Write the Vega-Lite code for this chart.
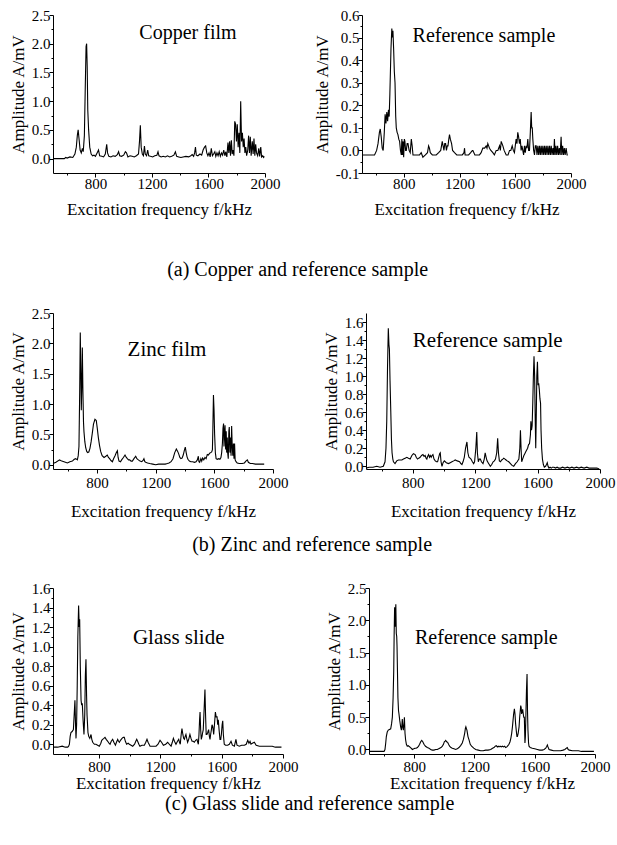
{
"$schema": "https://vega.github.io/schema/vega-lite/v6.json",
"background": "white",
"padding": {"left": 9, "top": 8, "right": 5, "bottom": 5},
"config": {
  "font": "Liberation Serif",
  "view": {"stroke": null},
  "axis": {"domainColor": "black", "tickColor": "black", "labelColor": "black", "titleColor": "black", "labelFont": "Liberation Serif", "titleFont": "Liberation Serif", "labelFontSize": 15, "titleFontSize": 17, "titleFontWeight": "normal", "grid": false, "labelPadding": -1, "domainWidth": 1, "tickWidth": 1, "labelOverlap": false, "tickCount": 100},
  "title": {"font": "Liberation Serif", "fontSize": 20, "fontWeight": "normal", "color": "black"}
},
"datasets": {
"cu": [{"f":500,"a":0},{"f":560,"a":0},{"f":580,"a":0},{"f":590,"a":0.02},{"f":600,"a":0.01},{"f":620,"a":0.03},{"f":640,"a":0.02},{"f":655,"a":0.08},{"f":665,"a":0.2},{"f":672,"a":0.4},{"f":678,"a":0.5},{"f":684,"a":0.35},{"f":692,"a":0.15},{"f":700,"a":0.1},{"f":708,"a":0.18},{"f":714,"a":0.12},{"f":722,"a":0.4},{"f":728,"a":1.2},{"f":734,"a":1.95},{"f":738,"a":2.0},{"f":742,"a":1.6},{"f":746,"a":0.85},{"f":752,"a":0.5},{"f":760,"a":0.2},{"f":770,"a":0.08},{"f":780,"a":0.05},{"f":790,"a":0.06},{"f":800,"a":0.04},{"f":812,"a":0.1},{"f":822,"a":0.15},{"f":830,"a":0.05},{"f":845,"a":0.04},{"f":858,"a":0.03},{"f":870,"a":0.08},{"f":880,"a":0.25},{"f":886,"a":0.1},{"f":895,"a":0.04},{"f":910,"a":0.03},{"f":925,"a":0.05},{"f":940,"a":0.04},{"f":955,"a":0.07},{"f":964,"a":0.12},{"f":972,"a":0.05},{"f":985,"a":0.04},{"f":1000,"a":0.06},{"f":1012,"a":0.12},{"f":1020,"a":0.1},{"f":1030,"a":0.03},{"f":1045,"a":0.05},{"f":1060,"a":0.04},{"f":1075,"a":0.03},{"f":1090,"a":0.05},{"f":1105,"a":0.08},{"f":1112,"a":0.3},{"f":1118,"a":0.58},{"f":1124,"a":0.2},{"f":1132,"a":0.08},{"f":1140,"a":0.05},{"f":1147,"a":0.22},{"f":1153,"a":0.08},{"f":1162,"a":0.05},{"f":1170,"a":0.15},{"f":1177,"a":0.05},{"f":1190,"a":0.04},{"f":1205,"a":0.03},{"f":1220,"a":0.05},{"f":1235,"a":0.06},{"f":1243,"a":0.12},{"f":1250,"a":0.05},{"f":1265,"a":0.03},{"f":1280,"a":0.04},{"f":1295,"a":0.03},{"f":1310,"a":0.05},{"f":1325,"a":0.03},{"f":1340,"a":0.04},{"f":1355,"a":0.06},{"f":1366,"a":0.12},{"f":1375,"a":0.04},{"f":1390,"a":0.03},{"f":1405,"a":0.02},{"f":1420,"a":0.03},{"f":1440,"a":0.04},{"f":1460,"a":0.03},{"f":1475,"a":0.05},{"f":1485,"a":0.07},{"f":1495,"a":0.04},{"f":1502,"a":0.1},{"f":1508,"a":0.2},{"f":1514,"a":0.06},{"f":1525,"a":0.05},{"f":1540,"a":0.08},{"f":1552,"a":0.06},{"f":1562,"a":0.15},{"f":1572,"a":0.2},{"f":1580,"a":0.22},{"f":1588,"a":0.1},{"f":1596,"a":0.05},{"f":1604,"a":0.1},{"f":1612,"a":0.03},{"f":1620,"a":0.18},{"f":1628,"a":0.05},{"f":1636,"a":0.08},{"f":1645,"a":0.12},{"f":1652,"a":0.04},{"f":1660,"a":0.1},{"f":1668,"a":0.05},{"f":1676,"a":0.12},{"f":1684,"a":0.04},{"f":1692,"a":0.1},{"f":1700,"a":0.06},{"f":1708,"a":0.15},{"f":1716,"a":0.05},{"f":1722,"a":0.12},{"f":1730,"a":0.03},{"f":1738,"a":0.28},{"f":1744,"a":0.1},{"f":1750,"a":0.3},{"f":1756,"a":0.05},{"f":1762,"a":0.32},{"f":1768,"a":0.08},{"f":1774,"a":0.15},{"f":1780,"a":0.05},{"f":1786,"a":0.65},{"f":1792,"a":0.6},{"f":1798,"a":0.3},{"f":1804,"a":0.6},{"f":1810,"a":0.2},{"f":1816,"a":0.45},{"f":1822,"a":0.1},{"f":1828,"a":1.0},{"f":1834,"a":0.3},{"f":1840,"a":0.45},{"f":1846,"a":0.2},{"f":1852,"a":0.35},{"f":1858,"a":0.1},{"f":1864,"a":0.2},{"f":1870,"a":0.05},{"f":1878,"a":0.15},{"f":1884,"a":0.4},{"f":1890,"a":0.1},{"f":1896,"a":0.38},{"f":1902,"a":0.05},{"f":1910,"a":0.3},{"f":1916,"a":0.08},{"f":1922,"a":0.35},{"f":1928,"a":0.05},{"f":1934,"a":0.25},{"f":1940,"a":0.1},{"f":1948,"a":0.05},{"f":1956,"a":0.18},{"f":1962,"a":0.04},{"f":1970,"a":0.2},{"f":1976,"a":0.03},{"f":1984,"a":0.05},{"f":1990,"a":0.02},{"f":1995,"a":0.04}],
"cuRef": [{"f":500,"a":-0.02},{"f":540,"a":-0.02},{"f":570,"a":-0.02},{"f":590,"a":-0.02},{"f":605,"a":0.0},{"f":615,"a":0.03},{"f":625,"a":0.08},{"f":631,"a":0.095},{"f":638,"a":0.06},{"f":645,"a":0.01},{"f":652,"a":0.0},{"f":660,"a":0.08},{"f":666,"a":0.16},{"f":672,"a":0.12},{"f":678,"a":0.17},{"f":684,"a":0.13},{"f":690,"a":0.18},{"f":695,"a":0.15},{"f":700,"a":0.25},{"f":708,"a":0.45},{"f":714,"a":0.54},{"f":718,"a":0.5},{"f":722,"a":0.53},{"f":727,"a":0.45},{"f":732,"a":0.35},{"f":737,"a":0.3},{"f":742,"a":0.15},{"f":746,"a":0.1},{"f":752,"a":0.08},{"f":758,"a":0.07},{"f":764,"a":0.05},{"f":770,"a":0.04},{"f":776,"a":0.0},{"f":782,"a":-0.02},{"f":786,"a":0.05},{"f":790,"a":-0.02},{"f":795,"a":0.04},{"f":799,"a":-0.03},{"f":804,"a":0.05},{"f":808,"a":0.04},{"f":813,"a":0.0},{"f":818,"a":0.0},{"f":824,"a":0.03},{"f":830,"a":0.03},{"f":838,"a":0.0},{"f":846,"a":-0.01},{"f":854,"a":0.05},{"f":860,"a":0.02},{"f":866,"a":-0.02},{"f":880,"a":-0.02},{"f":895,"a":-0.02},{"f":913,"a":-0.02},{"f":925,"a":-0.01},{"f":937,"a":-0.03},{"f":955,"a":-0.02},{"f":970,"a":-0.01},{"f":978,"a":0.02},{"f":984,"a":0.01},{"f":990,"a":-0.01},{"f":1005,"a":-0.02},{"f":1020,"a":-0.02},{"f":1033,"a":-0.02},{"f":1050,"a":-0.01},{"f":1065,"a":0.0},{"f":1076,"a":0.04},{"f":1082,"a":0.02},{"f":1088,"a":0.0},{"f":1094,"a":0.03},{"f":1100,"a":0.03},{"f":1106,"a":0.0},{"f":1112,"a":0.02},{"f":1117,"a":0.02},{"f":1123,"a":0.05},{"f":1128,"a":0.07},{"f":1134,"a":0.05},{"f":1143,"a":0.03},{"f":1150,"a":0.0},{"f":1164,"a":-0.01},{"f":1180,"a":-0.02},{"f":1200,"a":-0.02},{"f":1220,"a":-0.02},{"f":1232,"a":-0.01},{"f":1236,"a":0.01},{"f":1240,"a":-0.02},{"f":1248,"a":-0.02},{"f":1265,"a":-0.02},{"f":1280,"a":-0.01},{"f":1292,"a":0.0},{"f":1296,"a":0.0},{"f":1310,"a":-0.02},{"f":1330,"a":-0.02},{"f":1343,"a":-0.02},{"f":1355,"a":-0.01},{"f":1367,"a":0.01},{"f":1380,"a":0.01},{"f":1391,"a":0.02},{"f":1397,"a":0.01},{"f":1403,"a":0.03},{"f":1409,"a":0.02},{"f":1415,"a":0.01},{"f":1425,"a":0.0},{"f":1439,"a":-0.01},{"f":1450,"a":-0.02},{"f":1463,"a":0.0},{"f":1475,"a":0.0},{"f":1487,"a":0.02},{"f":1493,"a":0.0},{"f":1499,"a":0.04},{"f":1505,"a":0.03},{"f":1511,"a":0.02},{"f":1520,"a":0.0},{"f":1535,"a":-0.02},{"f":1548,"a":-0.02},{"f":1559,"a":0.0},{"f":1568,"a":0.0},{"f":1578,"a":0.02},{"f":1586,"a":0.0},{"f":1594,"a":-0.01},{"f":1600,"a":0.02},{"f":1606,"a":0.05},{"f":1612,"a":0.03},{"f":1618,"a":0.08},{"f":1624,"a":0.06},{"f":1630,"a":0.03},{"f":1636,"a":0.05},{"f":1642,"a":0.0},{"f":1648,"a":0.02},{"f":1654,"a":0.0},{"f":1660,"a":-0.02},{"f":1666,"a":0.02},{"f":1672,"a":-0.01},{"f":1678,"a":0.02},{"f":1684,"a":0.01},{"f":1690,"a":0.05},{"f":1696,"a":0.0},{"f":1702,"a":0.0},{"f":1708,"a":0.08},{"f":1714,"a":0.17},{"f":1718,"a":0.1},{"f":1722,"a":0.1},{"f":1726,"a":0.05},{"f":1732,"a":0.0},{"f":1738,"a":-0.02},{"f":1744,"a":0.02},{"f":1750,"a":0.02},{"f":1756,"a":-0.02},{"f":1762,"a":0.02},{"f":1768,"a":-0.02},{"f":1774,"a":0.02},{"f":1780,"a":-0.02},{"f":1786,"a":0.02},{"f":1792,"a":-0.02},{"f":1798,"a":0.02},{"f":1804,"a":-0.02},{"f":1810,"a":0.02},{"f":1816,"a":-0.02},{"f":1822,"a":0.02},{"f":1828,"a":-0.02},{"f":1834,"a":0.02},{"f":1840,"a":-0.02},{"f":1846,"a":0.02},{"f":1852,"a":-0.02},{"f":1858,"a":0.02},{"f":1864,"a":-0.02},{"f":1870,"a":0.01},{"f":1876,"a":-0.02},{"f":1881,"a":0.05},{"f":1886,"a":-0.02},{"f":1892,"a":0.02},{"f":1898,"a":-0.02},{"f":1904,"a":0.02},{"f":1910,"a":-0.02},{"f":1916,"a":0.01},{"f":1922,"a":-0.02},{"f":1929,"a":0.06},{"f":1934,"a":-0.02},{"f":1940,"a":0.02},{"f":1946,"a":-0.02},{"f":1952,"a":0.01},{"f":1958,"a":-0.02},{"f":1965,"a":0.01},{"f":1972,"a":-0.02},{"f":1977,"a":-0.02}],
"zn": [{"f":500,"a":0.02},{"f":520,"a":0.04},{"f":545,"a":0.08},{"f":560,"a":0.06},{"f":575,"a":0.05},{"f":598,"a":0.03},{"f":615,"a":0.05},{"f":632,"a":0.06},{"f":645,"a":0.09},{"f":655,"a":0.1},{"f":666,"a":0.08},{"f":672,"a":0.15},{"f":677,"a":0.3},{"f":682,"a":1.2},{"f":686,"a":2.18},{"f":690,"a":1.5},{"f":693,"a":0.9},{"f":697,"a":1.4},{"f":700,"a":1.93},{"f":704,"a":1.2},{"f":708,"a":0.7},{"f":711,"a":0.55},{"f":717,"a":0.38},{"f":723,"a":0.28},{"f":730,"a":0.22},{"f":736,"a":0.2},{"f":744,"a":0.21},{"f":752,"a":0.27},{"f":760,"a":0.38},{"f":768,"a":0.52},{"f":776,"a":0.67},{"f":786,"a":0.75},{"f":795,"a":0.73},{"f":802,"a":0.6},{"f":809,"a":0.45},{"f":817,"a":0.32},{"f":825,"a":0.22},{"f":835,"a":0.15},{"f":848,"a":0.12},{"f":860,"a":0.14},{"f":870,"a":0.16},{"f":878,"a":0.12},{"f":886,"a":0.1},{"f":895,"a":0.07},{"f":905,"a":0.05},{"f":913,"a":0.1},{"f":923,"a":0.15},{"f":932,"a":0.2},{"f":939,"a":0.23},{"f":944,"a":0.12},{"f":950,"a":0.06},{"f":960,"a":0.05},{"f":968,"a":0.08},{"f":980,"a":0.12},{"f":991,"a":0.16},{"f":1000,"a":0.12},{"f":1007,"a":0.1},{"f":1015,"a":0.08},{"f":1023,"a":0.08},{"f":1032,"a":0.06},{"f":1041,"a":0.06},{"f":1052,"a":0.1},{"f":1064,"a":0.14},{"f":1072,"a":0.1},{"f":1082,"a":0.08},{"f":1093,"a":0.06},{"f":1105,"a":0.05},{"f":1114,"a":0.07},{"f":1120,"a":0.1},{"f":1126,"a":0.05},{"f":1132,"a":0.04},{"f":1145,"a":0.03},{"f":1160,"a":0.02},{"f":1180,"a":0.01},{"f":1200,"a":0.0},{"f":1220,"a":0.01},{"f":1245,"a":0.01},{"f":1265,"a":0.01},{"f":1280,"a":0.02},{"f":1291,"a":0.03},{"f":1305,"a":0.05},{"f":1318,"a":0.1},{"f":1330,"a":0.2},{"f":1341,"a":0.26},{"f":1350,"a":0.22},{"f":1357,"a":0.18},{"f":1365,"a":0.12},{"f":1372,"a":0.1},{"f":1380,"a":0.11},{"f":1388,"a":0.16},{"f":1396,"a":0.24},{"f":1402,"a":0.29},{"f":1408,"a":0.2},{"f":1414,"a":0.13},{"f":1420,"a":0.09},{"f":1430,"a":0.06},{"f":1440,"a":0.05},{"f":1452,"a":0.05},{"f":1465,"a":0.04},{"f":1475,"a":0.05},{"f":1484,"a":0.08},{"f":1491,"a":0.14},{"f":1495,"a":0.05},{"f":1500,"a":0.04},{"f":1508,"a":0.1},{"f":1514,"a":0.06},{"f":1520,"a":0.11},{"f":1528,"a":0.08},{"f":1536,"a":0.12},{"f":1544,"a":0.1},{"f":1552,"a":0.17},{"f":1560,"a":0.16},{"f":1568,"a":0.19},{"f":1575,"a":0.2},{"f":1582,"a":0.21},{"f":1587,"a":0.25},{"f":1590,"a":0.6},{"f":1594,"a":1.15},{"f":1598,"a":0.9},{"f":1602,"a":0.5},{"f":1607,"a":0.2},{"f":1612,"a":0.1},{"f":1620,"a":0.09},{"f":1630,"a":0.1},{"f":1638,"a":0.09},{"f":1645,"a":0.12},{"f":1650,"a":0.2},{"f":1655,"a":0.35},{"f":1659,"a":0.6},{"f":1663,"a":0.68},{"f":1666,"a":0.3},{"f":1670,"a":0.55},{"f":1673,"a":0.65},{"f":1677,"a":0.25},{"f":1681,"a":0.55},{"f":1684,"a":0.2},{"f":1688,"a":0.45},{"f":1691,"a":0.2},{"f":1695,"a":0.1},{"f":1699,"a":0.55},{"f":1702,"a":0.62},{"f":1706,"a":0.2},{"f":1710,"a":0.45},{"f":1714,"a":0.15},{"f":1718,"a":0.64},{"f":1722,"a":0.3},{"f":1726,"a":0.15},{"f":1730,"a":0.35},{"f":1734,"a":0.1},{"f":1738,"a":0.35},{"f":1742,"a":0.08},{"f":1748,"a":0.05},{"f":1756,"a":0.03},{"f":1770,"a":0.02},{"f":1790,"a":0.02},{"f":1805,"a":0.03},{"f":1815,"a":0.06},{"f":1825,"a":0.08},{"f":1832,"a":0.04},{"f":1845,"a":0.02},{"f":1860,"a":0.02},{"f":1880,"a":0.01},{"f":1900,"a":0.01},{"f":1920,"a":0.01},{"f":1940,"a":0.01}],
"znRef": [{"f":500,"a":-0.02},{"f":520,"a":-0.01},{"f":545,"a":-0.01},{"f":569,"a":0.0},{"f":590,"a":-0.01},{"f":611,"a":0.0},{"f":622,"a":0.05},{"f":628,"a":0.2},{"f":633,"a":0.5},{"f":638,"a":1.1},{"f":643,"a":1.53},{"f":647,"a":1.35},{"f":650,"a":1.3},{"f":654,"a":0.95},{"f":659,"a":0.6},{"f":663,"a":0.3},{"f":667,"a":0.15},{"f":672,"a":0.08},{"f":676,"a":0.05},{"f":686,"a":0.03},{"f":697,"a":0.06},{"f":708,"a":0.07},{"f":719,"a":0.07},{"f":730,"a":0.07},{"f":740,"a":0.08},{"f":751,"a":0.09},{"f":762,"a":0.1},{"f":772,"a":0.09},{"f":783,"a":0.08},{"f":794,"a":0.12},{"f":804,"a":0.14},{"f":815,"a":0.13},{"f":822,"a":0.1},{"f":830,"a":0.08},{"f":838,"a":0.09},{"f":847,"a":0.1},{"f":856,"a":0.12},{"f":865,"a":0.13},{"f":872,"a":0.11},{"f":879,"a":0.12},{"f":885,"a":0.09},{"f":890,"a":0.08},{"f":895,"a":0.11},{"f":901,"a":0.13},{"f":907,"a":0.1},{"f":912,"a":0.12},{"f":918,"a":0.1},{"f":923,"a":0.12},{"f":929,"a":0.13},{"f":936,"a":0.08},{"f":944,"a":0.06},{"f":952,"a":0.05},{"f":959,"a":0.05},{"f":966,"a":0.1},{"f":972,"a":0.14},{"f":976,"a":0.15},{"f":981,"a":0.05},{"f":987,"a":0.0},{"f":994,"a":0.04},{"f":1002,"a":0.06},{"f":1015,"a":0.04},{"f":1029,"a":0.03},{"f":1040,"a":0.04},{"f":1051,"a":0.05},{"f":1062,"a":0.06},{"f":1072,"a":0.07},{"f":1085,"a":0.06},{"f":1100,"a":0.05},{"f":1108,"a":0.03},{"f":1115,"a":0.02},{"f":1122,"a":0.05},{"f":1130,"a":0.1},{"f":1138,"a":0.2},{"f":1147,"a":0.27},{"f":1153,"a":0.15},{"f":1160,"a":0.1},{"f":1167,"a":0.09},{"f":1173,"a":0.08},{"f":1182,"a":0.05},{"f":1190,"a":0.03},{"f":1196,"a":0.05},{"f":1204,"a":0.2},{"f":1210,"a":0.38},{"f":1214,"a":0.15},{"f":1220,"a":0.05},{"f":1226,"a":0.08},{"f":1233,"a":0.08},{"f":1240,"a":0.05},{"f":1250,"a":0.03},{"f":1258,"a":0.08},{"f":1264,"a":0.15},{"f":1270,"a":0.1},{"f":1276,"a":0.06},{"f":1283,"a":0.04},{"f":1290,"a":0.02},{"f":1297,"a":0.0},{"f":1306,"a":0.02},{"f":1315,"a":0.05},{"f":1323,"a":0.06},{"f":1330,"a":0.08},{"f":1338,"a":0.15},{"f":1344,"a":0.31},{"f":1349,"a":0.15},{"f":1355,"a":0.06},{"f":1362,"a":0.05},{"f":1370,"a":0.07},{"f":1377,"a":0.08},{"f":1383,"a":0.09},{"f":1391,"a":0.08},{"f":1398,"a":0.07},{"f":1405,"a":0.06},{"f":1415,"a":0.05},{"f":1426,"a":0.03},{"f":1436,"a":0.01},{"f":1447,"a":0.0},{"f":1458,"a":0.03},{"f":1469,"a":0.05},{"f":1476,"a":0.07},{"f":1480,"a":0.08},{"f":1486,"a":0.2},{"f":1490,"a":0.4},{"f":1494,"a":0.2},{"f":1498,"a":0.05},{"f":1504,"a":0.08},{"f":1512,"a":0.12},{"f":1518,"a":0.14},{"f":1524,"a":0.16},{"f":1530,"a":0.18},{"f":1536,"a":0.2},{"f":1542,"a":0.24},{"f":1548,"a":0.25},{"f":1554,"a":0.35},{"f":1557,"a":0.5},{"f":1561,"a":0.4},{"f":1565,"a":0.45},{"f":1569,"a":0.7},{"f":1573,"a":1.0},{"f":1577,"a":1.22},{"f":1581,"a":1.0},{"f":1585,"a":0.5},{"f":1588,"a":0.2},{"f":1591,"a":0.5},{"f":1595,"a":1.0},{"f":1599,"a":1.16},{"f":1603,"a":0.9},{"f":1607,"a":0.92},{"f":1611,"a":0.85},{"f":1615,"a":0.75},{"f":1619,"a":0.7},{"f":1622,"a":0.4},{"f":1626,"a":0.2},{"f":1631,"a":0.08},{"f":1637,"a":0.02},{"f":1643,"a":-0.01},{"f":1651,"a":0.0},{"f":1657,"a":0.02},{"f":1662,"a":0.04},{"f":1667,"a":0.0},{"f":1673,"a":-0.02},{"f":1680,"a":-0.01},{"f":1688,"a":-0.02},{"f":1695,"a":-0.01},{"f":1705,"a":-0.01},{"f":1715,"a":-0.02},{"f":1725,"a":-0.01},{"f":1735,"a":-0.02},{"f":1748,"a":-0.02},{"f":1760,"a":-0.01},{"f":1775,"a":-0.02},{"f":1791,"a":-0.01},{"f":1805,"a":-0.02},{"f":1820,"a":-0.01},{"f":1833,"a":-0.02},{"f":1850,"a":-0.01},{"f":1865,"a":-0.02},{"f":1880,"a":-0.01},{"f":1898,"a":-0.02},{"f":1915,"a":-0.01},{"f":1930,"a":-0.02},{"f":1945,"a":-0.02},{"f":1962,"a":-0.02},{"f":1980,"a":-0.02},{"f":1995,"a":-0.03}],
"gl": [{"f":500,"a":-0.03},{"f":530,"a":-0.03},{"f":560,"a":-0.02},{"f":580,"a":-0.03},{"f":596,"a":-0.03},{"f":602,"a":-0.02},{"f":607,"a":0.0},{"f":612,"a":0.08},{"f":617,"a":0.12},{"f":625,"a":0.13},{"f":633,"a":0.15},{"f":638,"a":0.3},{"f":643,"a":0.45},{"f":647,"a":0.2},{"f":650,"a":0.06},{"f":654,"a":0.2},{"f":658,"a":0.6},{"f":662,"a":1.1},{"f":667,"a":1.42},{"f":671,"a":1.2},{"f":674,"a":1.28},{"f":678,"a":0.8},{"f":683,"a":0.45},{"f":687,"a":0.4},{"f":691,"a":0.42},{"f":696,"a":0.25},{"f":702,"a":0.1},{"f":707,"a":0.3},{"f":711,"a":0.7},{"f":715,"a":0.87},{"f":719,"a":0.5},{"f":722,"a":0.3},{"f":728,"a":0.12},{"f":733,"a":0.08},{"f":740,"a":0.06},{"f":748,"a":0.1},{"f":753,"a":0.05},{"f":759,"a":0.02},{"f":770,"a":0.0},{"f":780,"a":0.0},{"f":791,"a":-0.01},{"f":802,"a":-0.02},{"f":812,"a":0.01},{"f":818,"a":0.04},{"f":824,"a":0.05},{"f":832,"a":0.06},{"f":839,"a":0.07},{"f":847,"a":0.05},{"f":857,"a":0.03},{"f":865,"a":0.01},{"f":872,"a":0.0},{"f":880,"a":0.03},{"f":889,"a":0.05},{"f":897,"a":0.02},{"f":907,"a":-0.01},{"f":914,"a":0.02},{"f":922,"a":0.05},{"f":927,"a":0.03},{"f":933,"a":0.02},{"f":940,"a":0.04},{"f":950,"a":0.06},{"f":958,"a":0.07},{"f":965,"a":0.07},{"f":972,"a":0.03},{"f":980,"a":0.0},{"f":990,"a":0.01},{"f":998,"a":0.0},{"f":1009,"a":-0.01},{"f":1020,"a":-0.02},{"f":1032,"a":0.0},{"f":1040,"a":0.03},{"f":1046,"a":0.05},{"f":1052,"a":0.03},{"f":1060,"a":0.0},{"f":1067,"a":-0.02},{"f":1080,"a":-0.01},{"f":1096,"a":-0.01},{"f":1105,"a":0.02},{"f":1113,"a":0.05},{"f":1120,"a":0.02},{"f":1133,"a":-0.02},{"f":1150,"a":-0.02},{"f":1165,"a":-0.02},{"f":1172,"a":-0.02},{"f":1185,"a":0.0},{"f":1198,"a":0.04},{"f":1208,"a":0.02},{"f":1220,"a":-0.01},{"f":1235,"a":0.0},{"f":1248,"a":0.02},{"f":1258,"a":0.0},{"f":1270,"a":-0.02},{"f":1278,"a":0.02},{"f":1285,"a":0.06},{"f":1292,"a":0.03},{"f":1302,"a":0.0},{"f":1312,"a":0.03},{"f":1320,"a":0.05},{"f":1325,"a":0.02},{"f":1330,"a":0.0},{"f":1336,"a":0.1},{"f":1341,"a":0.16},{"f":1347,"a":0.1},{"f":1352,"a":0.06},{"f":1357,"a":0.05},{"f":1362,"a":0.08},{"f":1367,"a":0.1},{"f":1372,"a":0.06},{"f":1378,"a":0.02},{"f":1385,"a":0.05},{"f":1393,"a":0.1},{"f":1400,"a":0.06},{"f":1407,"a":0.03},{"f":1414,"a":0.03},{"f":1422,"a":0.02},{"f":1430,"a":0.04},{"f":1439,"a":0.05},{"f":1444,"a":0.02},{"f":1448,"a":0.0},{"f":1452,"a":0.1},{"f":1456,"a":0.25},{"f":1459,"a":0.33},{"f":1463,"a":0.15},{"f":1467,"a":0.05},{"f":1472,"a":0.08},{"f":1476,"a":0.12},{"f":1480,"a":0.15},{"f":1484,"a":0.3},{"f":1488,"a":0.45},{"f":1491,"a":0.56},{"f":1495,"a":0.3},{"f":1499,"a":0.1},{"f":1504,"a":0.1},{"f":1509,"a":0.12},{"f":1515,"a":0.15},{"f":1520,"a":0.08},{"f":1524,"a":0.05},{"f":1528,"a":0.1},{"f":1533,"a":0.15},{"f":1537,"a":0.2},{"f":1542,"a":0.18},{"f":1548,"a":0.1},{"f":1553,"a":0.2},{"f":1559,"a":0.33},{"f":1564,"a":0.28},{"f":1570,"a":0.28},{"f":1574,"a":0.2},{"f":1578,"a":0.25},{"f":1583,"a":0.15},{"f":1589,"a":0.05},{"f":1594,"a":0.05},{"f":1598,"a":0.1},{"f":1603,"a":0.2},{"f":1607,"a":0.24},{"f":1611,"a":0.1},{"f":1617,"a":0.0},{"f":1625,"a":-0.01},{"f":1639,"a":-0.01},{"f":1650,"a":0.0},{"f":1661,"a":0.03},{"f":1670,"a":-0.01},{"f":1683,"a":-0.02},{"f":1693,"a":0.05},{"f":1700,"a":-0.01},{"f":1715,"a":-0.02},{"f":1730,"a":-0.01},{"f":1748,"a":-0.01},{"f":1760,"a":0.0},{"f":1770,"a":0.04},{"f":1778,"a":0.01},{"f":1785,"a":0.03},{"f":1791,"a":0.0},{"f":1800,"a":0.01},{"f":1813,"a":0.02},{"f":1825,"a":-0.01},{"f":1846,"a":-0.02},{"f":1870,"a":-0.02},{"f":1890,"a":-0.02},{"f":1911,"a":-0.02},{"f":1930,"a":-0.02},{"f":1950,"a":-0.03},{"f":1970,"a":-0.03},{"f":1990,"a":-0.03}],
"glRef": [{"f":500,"a":-0.03},{"f":530,"a":-0.03},{"f":560,"a":-0.03},{"f":585,"a":-0.03},{"f":600,"a":-0.03},{"f":606,"a":0.0},{"f":611,"a":0.1},{"f":615,"a":0.2},{"f":621,"a":0.27},{"f":628,"a":0.3},{"f":636,"a":0.31},{"f":644,"a":0.32},{"f":650,"a":0.4},{"f":655,"a":0.5},{"f":660,"a":0.8},{"f":664,"a":1.2},{"f":667,"a":1.8},{"f":670,"a":2.2},{"f":673,"a":1.9},{"f":675,"a":1.95},{"f":678,"a":2.25},{"f":681,"a":1.8},{"f":684,"a":1.75},{"f":686,"a":1.6},{"f":689,"a":1.2},{"f":692,"a":0.8},{"f":696,"a":0.6},{"f":699,"a":0.55},{"f":704,"a":0.45},{"f":710,"a":0.35},{"f":715,"a":0.3},{"f":719,"a":0.4},{"f":721,"a":0.47},{"f":724,"a":0.35},{"f":728,"a":0.3},{"f":732,"a":0.4},{"f":735,"a":0.5},{"f":739,"a":0.25},{"f":743,"a":0.15},{"f":748,"a":0.08},{"f":754,"a":0.05},{"f":760,"a":0.06},{"f":765,"a":0.05},{"f":776,"a":0.03},{"f":788,"a":0.0},{"f":797,"a":0.01},{"f":805,"a":0.02},{"f":813,"a":0.02},{"f":821,"a":0.03},{"f":829,"a":0.05},{"f":836,"a":0.08},{"f":843,"a":0.12},{"f":850,"a":0.14},{"f":857,"a":0.12},{"f":865,"a":0.08},{"f":875,"a":0.05},{"f":887,"a":0.03},{"f":898,"a":0.02},{"f":909,"a":0.0},{"f":920,"a":-0.01},{"f":931,"a":-0.01},{"f":943,"a":0.0},{"f":954,"a":0.0},{"f":962,"a":0.01},{"f":969,"a":0.02},{"f":978,"a":0.03},{"f":987,"a":0.05},{"f":994,"a":0.08},{"f":1000,"a":0.12},{"f":1005,"a":0.13},{"f":1009,"a":0.14},{"f":1015,"a":0.12},{"f":1022,"a":0.11},{"f":1028,"a":0.08},{"f":1035,"a":0.05},{"f":1044,"a":0.03},{"f":1053,"a":0.02},{"f":1064,"a":0.01},{"f":1075,"a":0.0},{"f":1086,"a":0.01},{"f":1097,"a":0.03},{"f":1108,"a":0.06},{"f":1119,"a":0.1},{"f":1127,"a":0.16},{"f":1135,"a":0.25},{"f":1140,"a":0.33},{"f":1143,"a":0.35},{"f":1147,"a":0.32},{"f":1150,"a":0.3},{"f":1157,"a":0.2},{"f":1164,"a":0.15},{"f":1172,"a":0.08},{"f":1181,"a":0.05},{"f":1195,"a":0.02},{"f":1208,"a":0.0},{"f":1225,"a":-0.01},{"f":1241,"a":-0.02},{"f":1258,"a":-0.02},{"f":1274,"a":-0.01},{"f":1290,"a":-0.01},{"f":1308,"a":0.0},{"f":1320,"a":0.02},{"f":1330,"a":0.03},{"f":1338,"a":0.05},{"f":1345,"a":0.06},{"f":1352,"a":0.04},{"f":1358,"a":0.05},{"f":1363,"a":0.04},{"f":1370,"a":0.05},{"f":1378,"a":0.04},{"f":1385,"a":0.05},{"f":1393,"a":0.04},{"f":1400,"a":0.05},{"f":1407,"a":0.03},{"f":1415,"a":0.04},{"f":1422,"a":0.06},{"f":1429,"a":0.08},{"f":1436,"a":0.12},{"f":1442,"a":0.18},{"f":1447,"a":0.25},{"f":1452,"a":0.35},{"f":1456,"a":0.45},{"f":1460,"a":0.55},{"f":1465,"a":0.63},{"f":1469,"a":0.55},{"f":1473,"a":0.4},{"f":1478,"a":0.28},{"f":1482,"a":0.2},{"f":1485,"a":0.2},{"f":1490,"a":0.25},{"f":1496,"a":0.35},{"f":1500,"a":0.5},{"f":1504,"a":0.6},{"f":1507,"a":0.68},{"f":1510,"a":0.65},{"f":1513,"a":0.55},{"f":1517,"a":0.6},{"f":1520,"a":0.62},{"f":1524,"a":0.55},{"f":1527,"a":0.5},{"f":1531,"a":0.5},{"f":1535,"a":0.1},{"f":1538,"a":0.2},{"f":1542,"a":0.6},{"f":1545,"a":0.9},{"f":1549,"a":1.17},{"f":1552,"a":0.6},{"f":1555,"a":0.3},{"f":1559,"a":0.1},{"f":1562,"a":0.05},{"f":1570,"a":0.03},{"f":1584,"a":0.02},{"f":1600,"a":0.01},{"f":1617,"a":0.0},{"f":1633,"a":-0.01},{"f":1650,"a":-0.01},{"f":1662,"a":0.0},{"f":1673,"a":0.02},{"f":1680,"a":0.05},{"f":1684,"a":0.07},{"f":1688,"a":0.04},{"f":1695,"a":0.0},{"f":1710,"a":-0.01},{"f":1725,"a":-0.02},{"f":1739,"a":-0.02},{"f":1755,"a":-0.02},{"f":1772,"a":-0.02},{"f":1788,"a":-0.01},{"f":1800,"a":0.0},{"f":1810,"a":0.02},{"f":1816,"a":0.03},{"f":1822,"a":0.0},{"f":1830,"a":-0.01},{"f":1850,"a":-0.02},{"f":1872,"a":-0.02},{"f":1890,"a":-0.02},{"f":1910,"a":-0.03},{"f":1938,"a":-0.03},{"f":1960,"a":-0.03},{"f":1980,"a":-0.03},{"f":1993,"a":-0.03}]
},
"spacing": 26,
"vconcat": [
{"spacing": 33, "title": {"text": "(a) Copper and reference sample", "orient": "bottom", "anchor": "middle", "offset": 43},
 "hconcat": [
  {"width": 212, "height": 158, "layer": [
    {"data": {"name": "cu"}, "mark": {"type": "line", "color": "black", "strokeWidth": 1.1},
     "encoding": {"x": {"field": "f", "type": "quantitative", "scale": {"domain": [500, 2000], "nice": false, "zero": false}, "axis": {"title": "Excitation frequency f/kHz", "titlePadding": 10, "values": [600,800,1000,1200,1400,1600,1800,2000], "format": "d", "labelExpr": "datum.value % 400 === 0 ? datum.label : ''", "tickSize": {"condition": {"test": "datum.value % 400 === 0", "value": 4}, "value": 2}, "labelFlush": false, "labelOverlap": false}},
      "y": {"field": "a", "type": "quantitative", "scale": {"domain": [-0.25, 2.5], "nice": false, "zero": false}, "axis": {"title": "Amplitude A/mV", "values": [0,0.25,0.5,0.75,1,1.25,1.5,1.75,2,2.25,2.5], "format": ".1f", "labelExpr": "abs(datum.value*2-round(datum.value*2))<1e-6 ? datum.label : ''", "tickSize": {"condition": {"test": "abs(datum.value*2-round(datum.value*2))<1e-6", "value": 4}, "value": 2}, "labelOverlap": false}}}},
    {"data": {"values": [{"t": "Copper film"}]}, "mark": {"type": "text", "fontSize": 20, "font": "Liberation Serif", "color": "black"},
     "encoding": {"x": {"datum": 1455, "type": "quantitative"}, "y": {"datum": 2.19, "type": "quantitative"}, "text": {"field": "t"}}}
  ]},
  {"width": 209, "height": 158, "layer": [
    {"data": {"name": "cuRef"}, "mark": {"type": "line", "color": "black", "strokeWidth": 1.1},
     "encoding": {"x": {"field": "f", "type": "quantitative", "scale": {"domain": [500, 2000], "nice": false, "zero": false}, "axis": {"title": "Excitation frequency f/kHz", "titlePadding": 10, "values": [600,800,1000,1200,1400,1600,1800,2000], "format": "d", "labelExpr": "datum.value % 400 === 0 ? datum.label : ''", "tickSize": {"condition": {"test": "datum.value % 400 === 0", "value": 4}, "value": 2}, "labelFlush": false, "labelOverlap": false}},
      "y": {"field": "a", "type": "quantitative", "scale": {"domain": [-0.1, 0.6], "nice": false, "zero": false}, "axis": {"title": "Amplitude A/mV", "values": [-0.1,-0.05,0,0.05,0.1,0.15,0.2,0.25,0.3,0.35,0.4,0.45,0.5,0.55,0.6], "format": ".1f", "labelExpr": "abs(datum.value*10-round(datum.value*10))<1e-6 ? (datum.value < 0 ? '-' + format(-datum.value, '.1f') : datum.label) : ''", "tickSize": {"condition": {"test": "abs(datum.value*10-round(datum.value*10))<1e-6", "value": 4}, "value": 2}, "labelOverlap": false}}}},
    {"data": {"values": [{"t": "Reference sample"}]}, "mark": {"type": "text", "fontSize": 20, "font": "Liberation Serif", "color": "black"},
     "encoding": {"x": {"datum": 1375, "type": "quantitative"}, "y": {"datum": 0.506, "type": "quantitative"}, "text": {"field": "t"}}}
  ]}
 ]},
{"spacing": 34, "title": {"text": "(b) Zinc and reference sample", "orient": "bottom", "anchor": "middle", "offset": 16},
 "hconcat": [
  {"width": 220, "height": 156, "layer": [
    {"data": {"name": "zn"}, "mark": {"type": "line", "color": "black", "strokeWidth": 1.1},
     "encoding": {"x": {"field": "f", "type": "quantitative", "scale": {"domain": [500, 2000], "nice": false, "zero": false}, "axis": {"title": "Excitation frequency f/kHz", "labelPadding": 2, "titlePadding": 13, "values": [600,800,1000,1200,1400,1600,1800,2000], "format": "d", "labelExpr": "datum.value % 400 === 0 ? datum.label : ''", "tickSize": {"condition": {"test": "datum.value % 400 === 0", "value": 4}, "value": 2}, "labelFlush": false, "labelOverlap": false}},
      "y": {"field": "a", "type": "quantitative", "scale": {"domain": [-0.07, 2.5], "nice": false, "zero": false}, "axis": {"title": "Amplitude A/mV", "values": [0,0.25,0.5,0.75,1,1.25,1.5,1.75,2,2.25,2.5], "format": ".1f", "labelExpr": "abs(datum.value*2-round(datum.value*2))<1e-6 ? datum.label : ''", "tickSize": {"condition": {"test": "abs(datum.value*2-round(datum.value*2))<1e-6", "value": 4}, "value": 2}, "labelOverlap": false}}}},
    {"data": {"values": [{"t": "Zinc film"}]}, "mark": {"type": "text", "fontSize": 21, "font": "Liberation Serif", "color": "black"},
     "encoding": {"x": {"datum": 1277, "type": "quantitative"}, "y": {"datum": 1.89, "type": "quantitative"}, "text": {"field": "t"}}}
  ]},
  {"width": 234, "height": 156, "layer": [
    {"data": {"name": "znRef"}, "mark": {"type": "line", "color": "black", "strokeWidth": 1.1},
     "encoding": {"x": {"field": "f", "type": "quantitative", "scale": {"domain": [500, 2000], "nice": false, "zero": false}, "axis": {"title": "Excitation frequency f/kHz", "labelPadding": 2, "titlePadding": 13, "values": [600,800,1000,1200,1400,1600,1800,2000], "format": "d", "labelExpr": "datum.value % 400 === 0 ? datum.label : ''", "tickSize": {"condition": {"test": "datum.value % 400 === 0", "value": 4}, "value": 2}, "labelFlush": false, "labelOverlap": false}},
      "y": {"field": "a", "type": "quantitative", "scale": {"domain": [-0.03, 1.7], "nice": false, "zero": false}, "axis": {"title": "Amplitude A/mV", "values": [0,0.1,0.2,0.3,0.4,0.5,0.6,0.7,0.8,0.9,1,1.1,1.2,1.3,1.4,1.5,1.6], "format": ".1f", "labelExpr": "abs(datum.value*5-round(datum.value*5))<1e-6 ? datum.label : ''", "tickSize": {"condition": {"test": "abs(datum.value*5-round(datum.value*5))<1e-6", "value": 4}, "value": 2}, "labelOverlap": false}}}},
    {"data": {"values": [{"t": "Reference sample"}]}, "mark": {"type": "text", "fontSize": 21, "font": "Liberation Serif", "color": "black"},
     "encoding": {"x": {"datum": 1280, "type": "quantitative"}, "y": {"datum": 1.39, "type": "quantitative"}, "text": {"field": "t"}}}
  ]}
 ]},
{"spacing": 27, "title": {"text": "(c) Glass slide and reference sample", "orient": "bottom", "anchor": "middle", "offset": 3},
 "hconcat": [
  {"width": 230, "height": 166, "layer": [
    {"data": {"name": "gl"}, "mark": {"type": "line", "color": "black", "strokeWidth": 1.1},
     "encoding": {"x": {"field": "f", "type": "quantitative", "scale": {"domain": [500, 2000], "nice": false, "zero": false}, "axis": {"title": "Excitation frequency f/kHz", "labelPadding": 1, "titlePadding": 1, "values": [600,800,1000,1200,1400,1600,1800,2000], "format": "d", "labelExpr": "datum.value % 400 === 0 ? datum.label : ''", "tickSize": {"condition": {"test": "datum.value % 400 === 0", "value": 4}, "value": 2}, "labelFlush": false, "labelOverlap": false}},
      "y": {"field": "a", "type": "quantitative", "scale": {"domain": [-0.1, 1.6], "nice": false, "zero": false}, "axis": {"title": "Amplitude A/mV", "values": [0,0.1,0.2,0.3,0.4,0.5,0.6,0.7,0.8,0.9,1,1.1,1.2,1.3,1.4,1.5,1.6], "format": ".1f", "labelExpr": "abs(datum.value*5-round(datum.value*5))<1e-6 ? datum.label : ''", "tickSize": {"condition": {"test": "abs(datum.value*5-round(datum.value*5))<1e-6", "value": 4}, "value": 2}, "labelOverlap": false}}}},
    {"data": {"values": [{"t": "Glass slide"}]}, "mark": {"type": "text", "fontSize": 21, "font": "Liberation Serif", "color": "black"},
     "encoding": {"x": {"datum": 1320, "type": "quantitative"}, "y": {"datum": 1.09, "type": "quantitative"}, "text": {"field": "t"}}}
  ]},
  {"width": 226, "height": 166, "layer": [
    {"data": {"name": "glRef"}, "mark": {"type": "line", "color": "black", "strokeWidth": 1.1},
     "encoding": {"x": {"field": "f", "type": "quantitative", "scale": {"domain": [500, 2000], "nice": false, "zero": false}, "axis": {"title": "Excitation frequency f/kHz", "labelPadding": 1, "titlePadding": 1, "values": [600,800,1000,1200,1400,1600,1800,2000], "format": "d", "labelExpr": "datum.value % 400 === 0 ? datum.label : ''", "tickSize": {"condition": {"test": "datum.value % 400 === 0", "value": 4}, "value": 2}, "labelFlush": false, "labelOverlap": false}},
      "y": {"field": "a", "type": "quantitative", "scale": {"domain": [-0.07, 2.5], "nice": false, "zero": false}, "axis": {"title": "Amplitude A/mV", "values": [0,0.25,0.5,0.75,1,1.25,1.5,1.75,2,2.25,2.5], "format": ".1f", "labelExpr": "abs(datum.value*2-round(datum.value*2))<1e-6 ? datum.label : ''", "tickSize": {"condition": {"test": "abs(datum.value*2-round(datum.value*2))<1e-6", "value": 4}, "value": 2}, "labelOverlap": false}}}},
    {"data": {"values": [{"t": "Reference sample"}]}, "mark": {"type": "text", "fontSize": 20, "font": "Liberation Serif", "color": "black"},
     "encoding": {"x": {"datum": 1279, "type": "quantitative"}, "y": {"datum": 1.72, "type": "quantitative"}, "text": {"field": "t"}}}
  ]}
 ]}
]
}
